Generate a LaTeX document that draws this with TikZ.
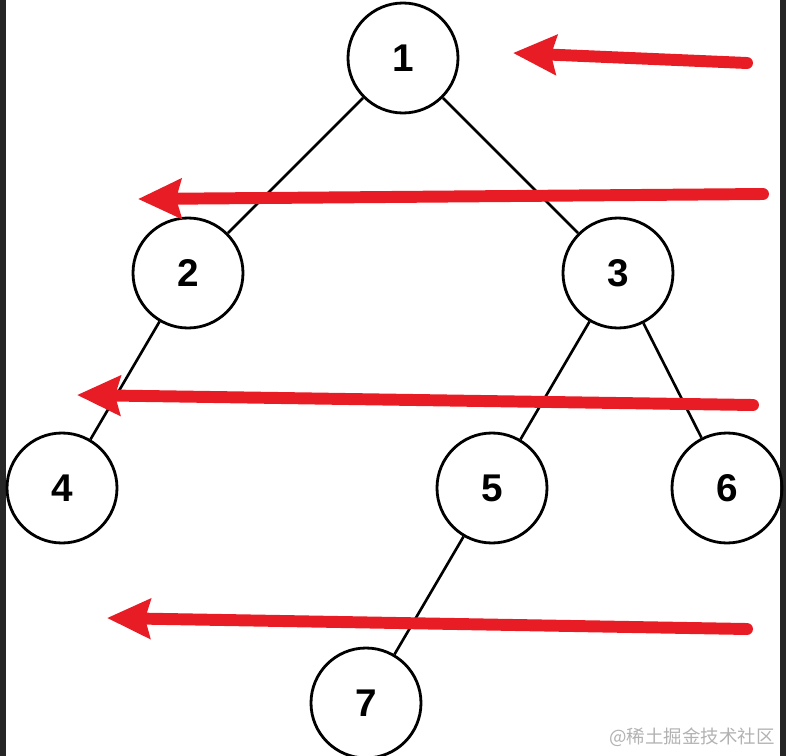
\documentclass[tikz,border=0pt]{standalone}
\usepackage{fontspec}
\setmainfont{Liberation Sans}
\newfontfamily\cjkfont{Noto Sans CJK SC}
\usetikzlibrary{trees, calc, arrows.meta}

\definecolor{levelred}{RGB}{232,28,36}
\definecolor{edgegray}{RGB}{38,38,38}

\begin{document}
\begin{tikzpicture}[
    level distance=4.3cm,
    level 1/.style={sibling distance=8.6cm},
    level 2/.style={sibling distance=5.04cm},
    level 3/.style={sibling distance=5.04cm},
    every node/.style={draw, circle, minimum size=2.2cm, inner sep=0pt, line width=1.6pt,
        font=\fontsize{22}{26}\selectfont\bfseries},
    edge from parent/.style={draw, line width=1.5pt},
    levelarrow/.style={draw=levelred, line width=6.8pt, line cap=round,
        -{Stealth[length=0.86cm, width=0.78cm, inset=0.1cm]}}
]
\useasboundingbox (0,0) rectangle (15.72,-15.12);
\fill[edgegray] (0,0) rectangle (0.12,-15.12);
\fill[edgegray] (15.6,0) rectangle (15.72,-15.12);

\node (n1) at (8.06,-1.16) {1}
    child { node (n2) {2}
        child { node (n4) {4} }
        child[missing] {}
    }
    child { node (n3) {3}
        child { node (n5) {5}
            child { node (n7) {7} }
            child[missing] {}
        }
        child { node[xshift=-0.34cm] (n6) {6} }
    };

% level-order arrows
\coordinate (t1) at (14.94,-1.26);  \coordinate (h1) at (10.26,-1.06);
\coordinate (t2) at (15.26,-3.88);  \coordinate (h2) at (2.76,-3.98);
\coordinate (t3) at (15.06,-8.10);  \coordinate (h3) at (1.54,-7.90);
\coordinate (t4) at (14.94,-12.58); \coordinate (h4) at (2.14,-12.36);
\foreach \i in {1,...,4}
    \draw[levelarrow] (t\i) -- (h\i);

\node[draw=none, rectangle, minimum size=0pt, anchor=east, text=gray!60,
    font=\fontsize{10.5}{12}\cjkfont] (mark) at (15.52,-14.74) {@稀土掘金技术社区};
\end{tikzpicture}
\end{document}
